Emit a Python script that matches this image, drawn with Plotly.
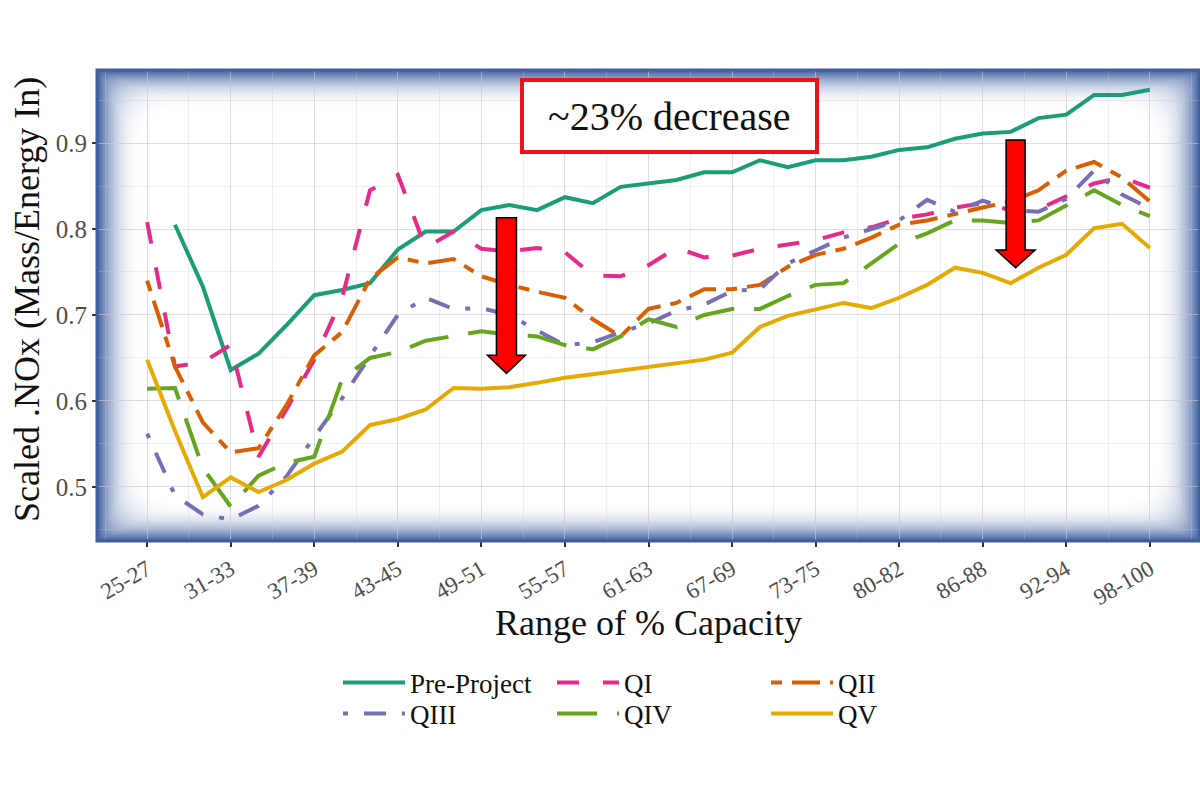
import plotly.graph_objects as go

# ---------------- data ----------------
categories = ["25-27", "27-29", "29-31", "31-33", "33-35", "35-37", "37-39", "39-41",
              "41-43", "43-45", "45-47", "47-49", "49-51", "51-53", "53-55", "55-57",
              "57-59", "59-61", "61-63", "63-65", "65-67", "67-69", "69-71", "71-73",
              "73-75", "76-77", "78-79", "80-82", "82-84", "84-86", "86-88", "88-90",
              "90-92", "92-94", "94-96", "96-98", "98-100"]
tick_labels = ["25-27", "31-33", "37-39", "43-45", "49-51", "55-57", "61-63",
               "67-69", "73-75", "80-82", "86-88", "92-94", "98-100"]
y_ticks = [0.5, 0.6, 0.7, 0.8, 0.9]

pre_project = [None, 0.805, 0.733, 0.636, 0.655, 0.688, 0.723, 0.729, 0.737, 0.776, 0.797,
               0.797, 0.822, 0.828, 0.822, 0.837, 0.830, 0.849, 0.853, 0.857, 0.866, 0.866,
               0.880, 0.872, 0.880, 0.880, 0.884, 0.892, 0.895, 0.905, 0.911, 0.913, 0.929,
               0.933, 0.956, 0.956, 0.962]
qi = [0.808, 0.640, 0.645, 0.665, 0.535, 0.590, 0.648, 0.720, 0.845, 0.863, 0.778, 0.797,
      0.777, 0.774, 0.778, 0.773, 0.746, 0.745, 0.758, 0.778, 0.767, 0.769, 0.777, 0.782,
      0.787, 0.796, 0.802, 0.812, 0.817, 0.825, 0.830, 0.822, 0.823, 0.838, 0.853, 0.860, 0.848]
qii = [0.740, 0.640, 0.575, 0.540, 0.545, 0.595, 0.653, 0.680, 0.742, 0.767, 0.760, 0.765,
       0.745, 0.735, 0.727, 0.720, 0.695, 0.675, 0.707, 0.714, 0.730, 0.730, 0.735, 0.756,
       0.770, 0.777, 0.790, 0.805, 0.810, 0.818, 0.825, 0.832, 0.845, 0.868, 0.878, 0.860, 0.832]
qiii = [0.562, 0.490, 0.468, 0.462, 0.478, 0.512, 0.558, 0.603, 0.652, 0.700, 0.720, 0.707,
        0.708, 0.700, 0.682, 0.665, 0.668, 0.680, 0.690, 0.705, 0.712, 0.728, 0.730, 0.760,
        0.775, 0.790, 0.800, 0.810, 0.834, 0.820, 0.833, 0.822, 0.820, 0.835, 0.868, 0.840, 0.824]
qiv = [0.614, 0.615, 0.522, 0.477, 0.513, 0.528, 0.535, 0.625, 0.650, 0.657, 0.670, 0.676,
       0.681, 0.677, 0.675, 0.665, 0.660, 0.675, 0.695, 0.686, 0.700, 0.707, 0.707, 0.722,
       0.735, 0.737, 0.760, 0.783, 0.795, 0.810, 0.810, 0.807, 0.810, 0.827, 0.845, 0.828, 0.815]
qv = [0.648, 0.565, 0.488, 0.511, 0.494, 0.508, 0.527, 0.541, 0.572, 0.579, 0.590, 0.615,
      0.614, 0.616, 0.621, 0.627, 0.631, 0.635, 0.640, 0.644, 0.648, 0.656, 0.686, 0.699,
      0.707, 0.714, 0.708, 0.720, 0.735, 0.755, 0.749, 0.737, 0.755, 0.770, 0.801, 0.806, 0.778]

series_names = ["Pre-Project", "QI", "QII", "QIII", "QIV", "QV"]
series_values = [pre_project, qi, qii, qiii, qiv, qv]

# ---------------- styles ----------------
colors = ["#1B9E77", "#E7298A", "#D95F02", "#7570B3", "#66A61E", "#E6AB02"]
dashes = ["solid", "22px,24px", "11px,10px,28px,10px", "5px,16px,22px,16px", "40px,20px", "solid"]
legend_ids = ["legend", "legend", "legend", "legend2", "legend2", "legend2"]

W, H = 1200, 801
ML, MR, MT, MB = 97, 0, 70, 260
PW, PH = W - ML - MR, H - MT - MB

x_idx = list(range(len(categories)))
tickvals = [categories.index(t) for t in tick_labels]

fig = go.Figure()
for name, vals, col, dsh, lg in zip(series_names, series_values, colors, dashes, legend_ids):
    fig.add_trace(go.Scatter(
        x=x_idx, y=vals, mode="lines", name=name,
        line=dict(color=col, width=4, dash=dsh),
        connectgaps=False, legend=lg,
        customdata=categories,
        hovertemplate="%{customdata}: %{y:.3f}<extra>" + name + "</extra>",
    ))

serif = "Liberation Serif, Times New Roman, serif"

# ---------------- glow frame (inner shadow, opaque nested fills under the grid) ----------------
shapes = []
edge = (63, 95, 158)
N = 44
for k in range(N + 1):
    ix = (k * 1.05) / PW
    iy = (k * 0.92) / PH
    rx = (1 + k * 1.25) / PW
    ry = (1 + k * 1.25) / PH
    x0, x1 = ix, 1 - ix
    y0, y1 = iy, 1 - iy
    s = k / N
    w = 1 - (1 - s) ** 2.4
    c = tuple(int(round(e * (1 - w) + 255 * w)) for e in edge)
    path = (f"M {x0+rx},{y1} L {x1-rx},{y1} Q {x1},{y1} {x1},{y1-ry} "
            f"L {x1},{y0+ry} Q {x1},{y0} {x1-rx},{y0} L {x0+rx},{y0} "
            f"Q {x0},{y0} {x0},{y0+ry} L {x0},{y1-ry} Q {x0},{y1} {x0+rx},{y1} Z")
    shapes.append(dict(type="path", path=path, xref="paper", yref="paper",
                       fillcolor=f"rgb{c}", line=dict(width=0), layer="below"))
shapes.append(dict(type="rect", xref="paper", yref="paper", x0=0, x1=1, y0=0, y1=1,
                   line=dict(color="#3F5F9E", width=3), layer="above"))

# ---------------- red box ----------------
bx0, bx1, by0, by1 = 522, 817, 80, 152
shapes.append(dict(type="rect", xref="paper", yref="paper",
                   x0=(bx0 - ML) / PW, x1=(bx1 - ML) / PW,
                   y0=1 - (by1 - MT) / PH, y1=1 - (by0 - MT) / PH,
                   fillcolor="white", line=dict(color="#E8141B", width=4), layer="above"))

# ---------------- red arrows (data coordinates) ----------------
def arrow(cx, top, neck, tip, sw, hw):
    p = (f"M {cx-sw},{top} L {cx+sw},{top} L {cx+sw},{neck} L {cx+hw},{neck} "
         f"L {cx},{tip} L {cx-hw},{neck} L {cx-sw},{neck} Z")
    return dict(type="path", path=p, xref="x", yref="y", fillcolor="#FF0000",
                line=dict(color="black", width=1.5), layer="above")

shapes.append(arrow(12.9, 0.813, 0.653, 0.632, 0.36, 0.68))
shapes.append(arrow(31.18, 0.9035, 0.7756, 0.755, 0.34, 0.70))

annotations = [
    dict(text="~23% decrease", xref="paper", yref="paper",
         x=((bx0 + bx1) / 2 - ML) / PW, y=1 - ((by0 + by1) / 2 - MT) / PH,
         showarrow=False, font=dict(family=serif, size=40, color="#111111"),
         xanchor="center", yanchor="middle"),
    dict(text="Range of % Capacity", xref="paper", yref="paper",
         x=(648 - ML) / PW, y=1 - (623 - MT) / PH, showarrow=False,
         font=dict(family=serif, size=36, color="#111111"),
         xanchor="center", yanchor="middle"),
    dict(text="Scaled .NOx (Mass/Energy In)", xref="paper", yref="paper",
         x=(27 - ML) / PW, y=1 - (300 - MT) / PH, showarrow=False, textangle=-90,
         font=dict(family=serif, size=36, color="#111111"),
         xanchor="center", yanchor="middle"),
]

legend_common = dict(orientation="h", xanchor="left", yanchor="middle",
                     font=dict(family=serif, size=27, color="#111111"),
                     bgcolor="rgba(0,0,0,0)", itemwidth=62,
                     entrywidth=137, entrywidthmode="pixels", traceorder="normal")

fig.update_layout(
    width=W, height=H,
    margin=dict(l=ML, r=MR, t=MT, b=MB),
    paper_bgcolor="white", plot_bgcolor="white",
    font=dict(family=serif),
    shapes=shapes, annotations=annotations,
    legend=dict(x=(338 - ML) / PW, y=1 - (683 - MT) / PH, **legend_common),
    legend2=dict(x=(338 - ML) / PW, y=1 - (714 - MT) / PH, **legend_common),
    xaxis=dict(range=[-1.8, 37.8], tickmode="array", tickvals=tickvals, ticktext=tick_labels,
               tickangle=-30, tickfont=dict(family=serif, size=23, color="#4D4D4D"),
               ticks="outside", ticklen=5, tickwidth=1.5, tickcolor="#333333",
               showgrid=True, gridcolor="rgba(200,200,215,0.45)", gridwidth=1.2, zeroline=False,
               showline=False,
               minor=dict(dtick=1.5, tick0=0, showgrid=True,
                          gridcolor="rgba(200,200,215,0.3)", gridwidth=1)),
    yaxis=dict(range=[0.437, 0.985], tickmode="array", tickvals=y_ticks,
               ticktext=[f"{v:.1f}" for v in y_ticks],
               tickfont=dict(family=serif, size=25, color="#4D4D4D"),
               ticks="outside", ticklen=4, tickwidth=1.5, tickcolor="#333333",
               showgrid=True, gridcolor="rgba(200,200,215,0.45)", gridwidth=1.2, zeroline=False,
               showline=False,
               minor=dict(dtick=0.05, tick0=0, showgrid=True,
                          gridcolor="rgba(200,200,215,0.3)", gridwidth=1)),
)

fig.write_html("out.html", config={"displayModeBar": False},
               post_script="document.body.style.margin='0';document.body.style.overflow='hidden';")
